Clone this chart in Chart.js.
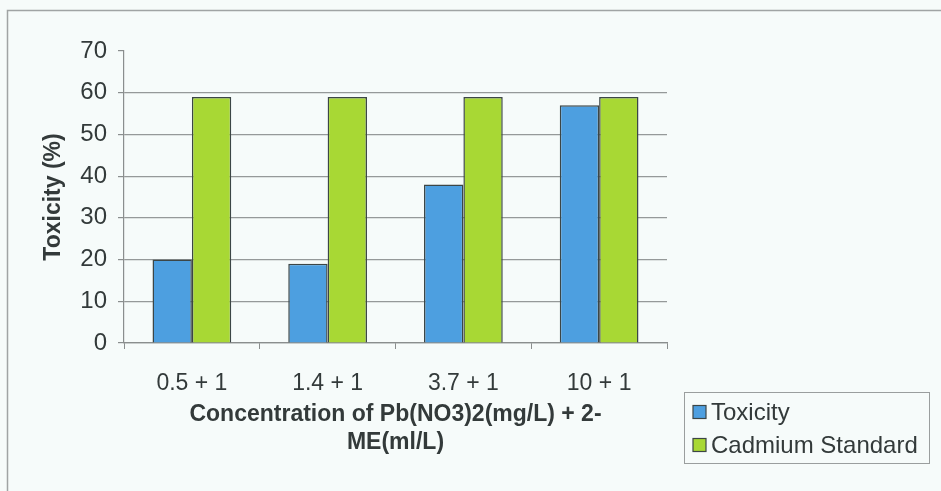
<!DOCTYPE html>
<html>
<head>
<meta charset="utf-8">
<script src="https://cdn.jsdelivr.net/npm/chart.js@4/dist/chart.umd.min.js"></script>
<style>
  html, body { margin: 0; padding: 0; background: #f6fbfa; }
  #wrap { width: 941px; height: 491px; }
</style>
</head>
<body>
<div id="wrap"><canvas id="c" width="941" height="491"></canvas></div>
<script>
const categories = ['0.5 + 1', '1.4 + 1', '3.7 + 1', '10 + 1'];
const toxicity = [20, 19, 38, 57];
const cadmiumStandard = [59, 59, 59, 59];
const yTicks = [0, 10, 20, 30, 40, 50, 60, 70];
const seriesNames = ['Toxicity', 'Cadmium Standard'];

const FONT = "'Liberation Sans', Arial, sans-serif";
const TEXT = '#333a3a';

// page background and the outer frame lines
const frame = {
  id: 'frame',
  beforeDraw(chart) {
    const ctx = chart.ctx;
    ctx.save();
    ctx.fillStyle = '#f6fbfa';
    ctx.fillRect(0, 0, chart.width, chart.height);
    ctx.strokeStyle = '#a0a4a4';
    ctx.lineWidth = 1.5;
    ctx.beginPath();
    ctx.moveTo(7.5, chart.height);
    ctx.lineTo(7.5, 10.5);
    ctx.lineTo(chart.width, 10.5);
    ctx.stroke();
    ctx.restore();
  }
};

// boxed legend at the lower right, built from the datasets
const boxLegend = {
  id: 'boxLegend',
  afterDraw(chart) {
    const ctx = chart.ctx;
    ctx.save();
    ctx.strokeStyle = '#9a9e9e';
    ctx.lineWidth = 1;
    ctx.strokeRect(684.5, 392.5, 245, 71);
    ctx.font = '24px ' + FONT;
    ctx.textBaseline = 'middle';
    ctx.textAlign = 'left';
    chart.data.datasets.forEach((ds, i) => {
      const cy = 412 + i * 33;
      ctx.fillStyle = ds.backgroundColor;
      ctx.fillRect(693, cy - 6.5, 13, 13);
      ctx.strokeStyle = '#3c4646';
      ctx.lineWidth = 1.2;
      ctx.strokeRect(693, cy - 6.5, 13, 13);
      ctx.fillStyle = TEXT;
      ctx.fillText(ds.label, 711, cy + 1);
    });
    ctx.restore();
  }
};

new Chart(document.getElementById('c'), {
  type: 'bar',
  data: {
    labels: categories,
    datasets: [
      {
        label: seriesNames[0],
        data: toxicity,
        backgroundColor: '#4d9fe0',
        borderColor: '#3c4646',
        borderWidth: 1.5
      },
      {
        label: seriesNames[1],
        data: cadmiumStandard,
        backgroundColor: '#a8d834',
        borderColor: '#3c4646',
        borderWidth: 1.5
      }
    ]
  },
  options: {
    responsive: false,
    animation: false,
    devicePixelRatio: 1,
    layout: { padding: { left: 37, right: 274, top: 51, bottom: 35 } },
    datasets: { bar: { categoryPercentage: 0.58, barPercentage: 1 } },
    plugins: {
      legend: { display: false },
      tooltip: { enabled: false }
    },
    scales: {
      x: {
        afterFit(s) { s.height = 113; },
        grid: {
          offset: true,
          drawOnChartArea: false,
          drawTicks: true,
          tickLength: 6,
          tickColor: '#8a8e8e'
        },
        border: { display: true, color: '#8a8e8e', width: 1.2 },
        ticks: {
          color: TEXT,
          padding: 21,
          font: { family: FONT, size: 23 },
          maxRotation: 0
        },
        title: {
          display: true,
          text: ['Concentration of Pb(NO3)2(mg/L) + 2-', 'ME(ml/L)'],
          color: TEXT,
          padding: { top: 0, bottom: 0 },
          font: { family: FONT, size: 23, weight: 'bold', lineHeight: 1.2 }
        }
      },
      y: {
        min: 0,
        max: 70,
        afterFit(s) { s.width = 87; },
        afterBuildTicks(s) { s.ticks = yTicks.map(v => ({ value: v })); },
        grid: {
          color: c => (c.tick && c.tick.value === 70) ? 'rgba(0,0,0,0)' : '#959999',
          lineWidth: 1.2,
          drawTicks: true,
          tickLength: 6,
          tickColor: '#8a8e8e'
        },
        border: { display: true, color: '#8a8e8e', width: 1.2 },
        ticks: {
          color: TEXT,
          padding: 11,
          font: { family: FONT, size: 24 }
        },
        title: {
          display: true,
          text: 'Toxicity (%)',
          color: TEXT,
          padding: { top: 3, bottom: 3 },
          font: { family: FONT, size: 23, weight: 'bold' }
        }
      }
    }
  },
  plugins: [frame, boxLegend]
});
</script>
</body>
</html>
